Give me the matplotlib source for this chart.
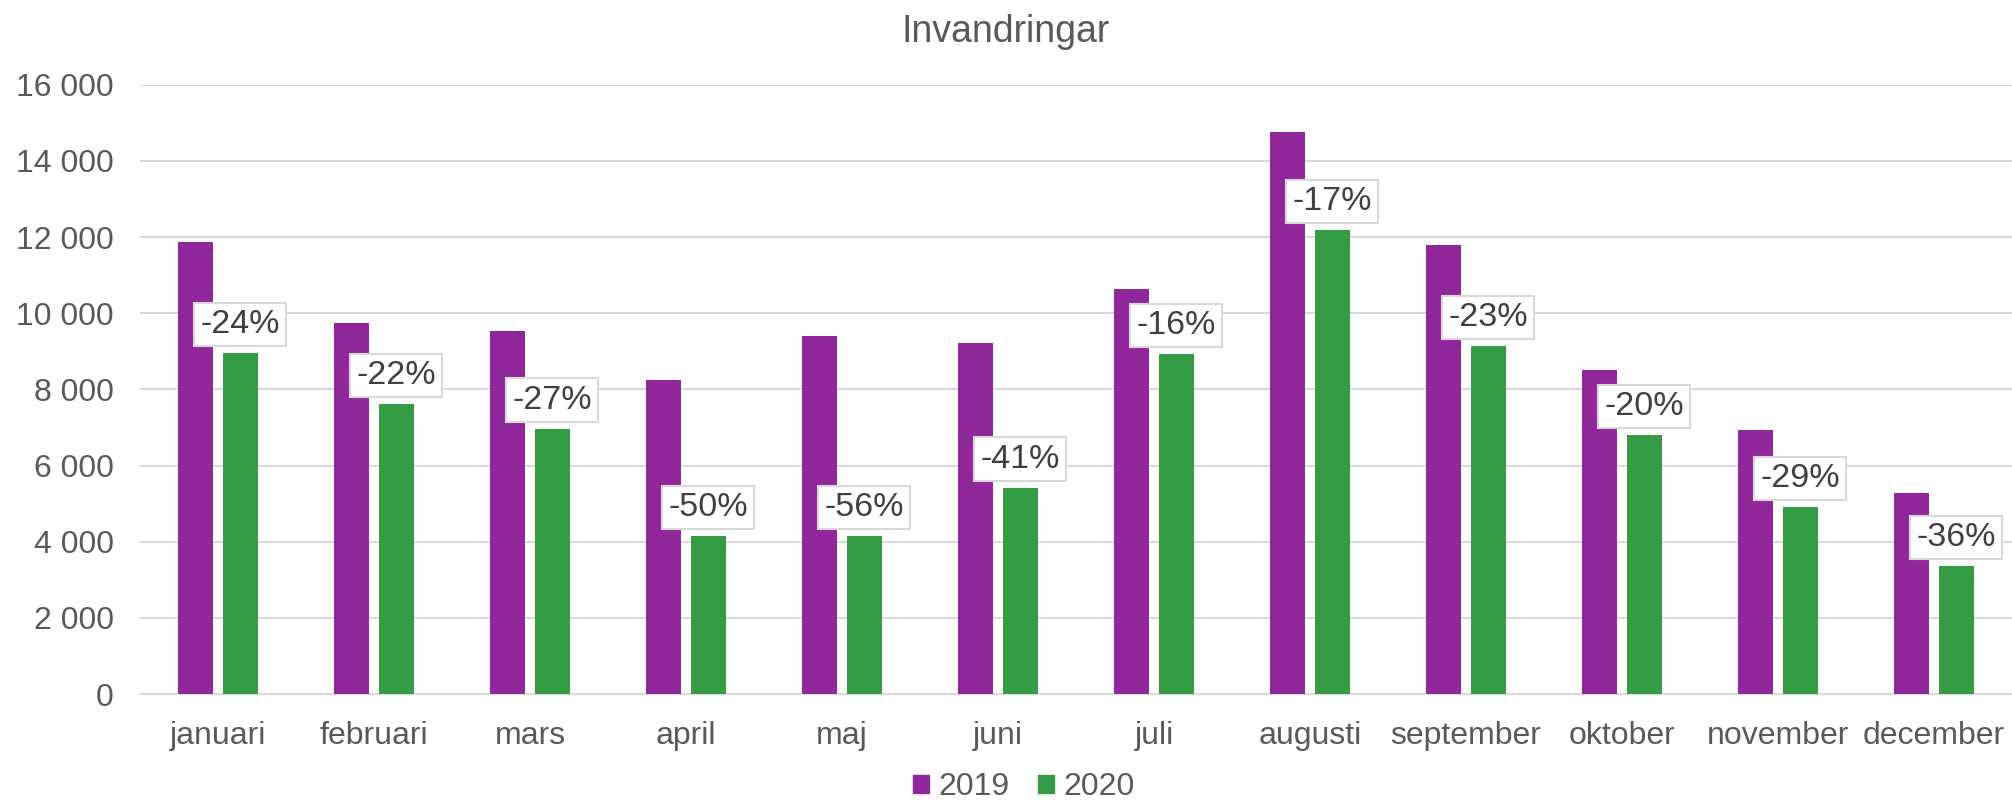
import numpy as np
import matplotlib
matplotlib.use("Agg")
import matplotlib.pyplot as plt
from matplotlib.ticker import FuncFormatter
from matplotlib.patches import Patch

months = ['januari', 'februari', 'mars', 'april', 'maj', 'juni', 'juli',
          'augusti', 'september', 'oktober', 'november', 'december']
v2019 = [11870, 9730, 9530, 8250, 9400, 9230, 10640, 14750, 11790, 8520, 6940, 5290]
v2020 = [8960, 7610, 6970, 4140, 4140, 5420, 8930, 12190, 9130, 6800, 4920, 3370]
pct_labels = ['-24%', '-22%', '-27%', '-50%', '-56%', '-41%', '-16%',
              '-17%', '-23%', '-20%', '-29%', '-36%']
years = ['2019', '2020']

purple = '#90279A'
green = '#339C45'
grey_txt = '#595959'
grid_c = '#d9d9d9'

plt.rcParams['font.family'] = ['Liberation Sans', 'DejaVu Sans']

fig = plt.figure(figsize=(20.12, 8.06), dpi=100)
ax = fig.add_axes([140/2012, 1 - 694/806, 1 - 140/2012, (694 - 84.7)/806])

x = np.arange(len(months))
w = 0.224
off = 0.142
ax.bar(x - off, v2019, w, color=purple, zorder=3)
ax.bar(x + off, v2020, w, color=green, zorder=3)

for xi, v, lab in zip(x, v2020, pct_labels):
    ax.annotate(lab, xy=(xi + off, v), xytext=(0, 13), textcoords='offset pixels',
                ha='center', va='bottom', fontsize=24.5, color='#404040', zorder=5,
                bbox=dict(boxstyle='square,pad=0.18', fc='white', ec=grid_c, lw=1.5))

ax.set_xlim(-0.5, 11.5)
ax.set_ylim(0, 16000)
ax.set_yticks(np.arange(0, 16001, 2000))
ax.yaxis.set_major_formatter(FuncFormatter(lambda v, p: f"{int(v):,}".replace(",", " ")))
ax.set_xticks(x)
ax.set_xticklabels(months)
ax.grid(axis='y', color=grid_c, lw=1.5, zorder=0)
for s in ['top', 'right', 'left']:
    ax.spines[s].set_visible(False)
ax.spines['bottom'].set_color(grid_c)
ax.spines['bottom'].set_linewidth(1.5)
ax.tick_params(axis='both', length=0, labelsize=23, colors=grey_txt)
ax.tick_params(axis='x', pad=19.5)
ax.tick_params(axis='y', pad=19)

fig.text(0.5, 1 - 32/806, 'Invandringar', ha='center', va='center',
         fontsize=27, color=grey_txt)

handles = [Patch(color=purple, label=years[0]), Patch(color=green, label=years[1])]
leg = fig.legend(handles=handles, loc='center', bbox_to_anchor=(1024/2012, 19/806),
                 ncol=2, frameon=False, fontsize=23, handlelength=0.5, handleheight=0.5,
                 handletextpad=0.3, columnspacing=0.9, borderpad=0.1)
for t in leg.get_texts():
    t.set_color(grey_txt)

fig.savefig('out.png', dpi=100)
